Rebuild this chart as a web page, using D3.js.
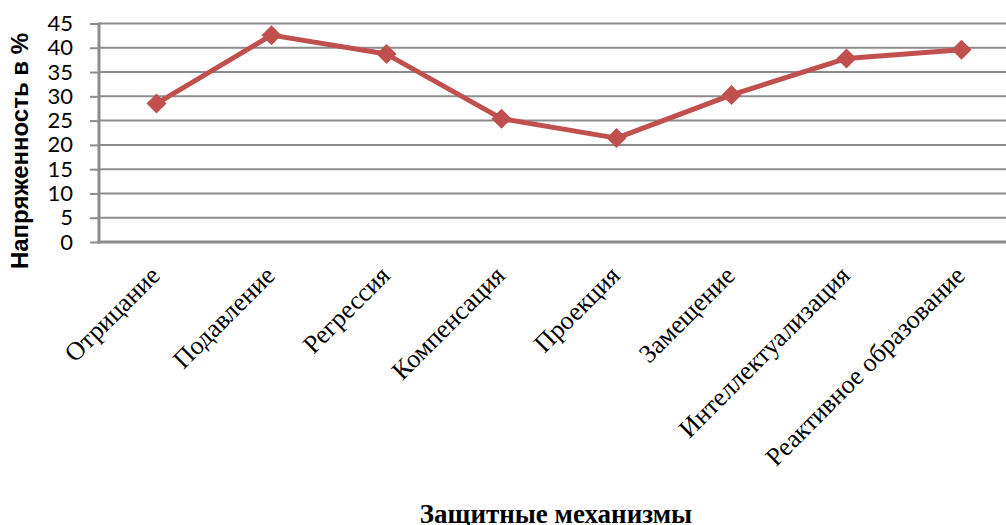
<!DOCTYPE html>
<html>
<head>
<meta charset="utf-8">
<script src="https://cdn.jsdelivr.net/npm/d3@7"></script>
<style>
  html, body { margin: 0; padding: 0; background: #fff; overflow: hidden; }
  svg { display: block; }
</style>
</head>
<body>
<div id="app"></div>
<script>
// data
const mechanisms = [
  "Отрицание",
  "Подавление",
  "Регрессия",
  "Компенсация",
  "Проекция",
  "Замещение",
  "Интеллектуализация",
  "Реактивное образование"
];
const tension = [28.5, 42.6, 38.7, 25.4, 21.4, 30.3, 37.8, 39.6];
const yTicks = [0, 5, 10, 15, 20, 25, 30, 35, 40, 45];

const yTitle = "Напряженность в %";
const xTitle = "Защитные механизмы";

const width = 1006, height = 525;
const lineColor = "#c0504d";
const gridColor = "#8c8c8c";

const svg = d3.select("#app").append("svg")
  .attr("width", width)
  .attr("height", height);

// plot runs past the right edge like the source image
const x = d3.scaleBand().domain(mechanisms).range([99, 1019]);
const y = d3.scaleLinear().domain([0, 45]).range([242, 23.5]);

// horizontal gridlines
svg.append("g")
  .selectAll("line")
  .data(yTicks.filter(d => d > 0))
  .join("line")
  .attr("x1", 99)
  .attr("x2", 1019)
  .attr("y1", d => y(d))
  .attr("y2", d => y(d))
  .attr("stroke", gridColor)
  .attr("stroke-width", 2);

// y axis
const yAxis = svg.append("g")
  .attr("transform", "translate(99,0)")
  .call(d3.axisLeft(y).tickValues(yTicks).tickSize(9).tickPadding(17));
yAxis.select(".domain").remove();
yAxis.selectAll(".tick line").attr("stroke", gridColor).attr("stroke-width", 2);
yAxis.selectAll(".tick text")
  .attr("font-family", "Lato, 'Open Sans', sans-serif")
  .attr("font-size", 22)
  .attr("fill", "#000");

// axis lines
svg.append("line")
  .attr("x1", 99).attr("x2", 99)
  .attr("y1", y(45) - 1).attr("y2", y(0) + 1.5)
  .attr("stroke", gridColor).attr("stroke-width", 3);
svg.append("line")
  .attr("x1", 97.5).attr("x2", 1019)
  .attr("y1", y(0)).attr("y2", y(0))
  .attr("stroke", gridColor).attr("stroke-width", 3);

// category labels
svg.append("g")
  .selectAll("text")
  .data(mechanisms)
  .join("text")
  .attr("transform", d => `translate(${x(d) + x.bandwidth() / 2 + 5},277) rotate(-45)`)
  .attr("text-anchor", "end")
  .attr("font-family", "'Liberation Serif', 'Times New Roman', serif")
  .attr("font-size", 26)
  .attr("fill", "#000")
  .text(d => d);

// series line
const pts = mechanisms.map((m, i) => [x(m) + x.bandwidth() / 2, y(tension[i])]);

svg.append("path")
  .datum(pts)
  .attr("d", d3.line())
  .attr("fill", "none")
  .attr("stroke", lineColor)
  .attr("stroke-width", 5)
  .attr("stroke-linejoin", "round");

svg.append("g")
  .selectAll("path")
  .data(pts)
  .join("path")
  .attr("d", d3.symbol(d3.symbolSquare, 200))
  .attr("transform", d => `translate(${d[0]},${d[1]}) rotate(45)`)
  .attr("fill", lineColor);

// axis titles
svg.append("text")
  .attr("transform", "translate(28,151) rotate(-90)")
  .attr("text-anchor", "middle")
  .attr("font-family", "'Liberation Sans', Arial, sans-serif")
  .attr("font-weight", "bold")
  .attr("font-size", 24)
  .attr("fill", "#000")
  .text(yTitle);

svg.append("text")
  .attr("x", 556)
  .attr("y", 523)
  .attr("text-anchor", "middle")
  .attr("font-family", "'Liberation Serif', 'Times New Roman', serif")
  .attr("font-weight", "bold")
  .attr("font-size", 27)
  .attr("fill", "#000")
  .text(xTitle);
</script>
</body>
</html>
